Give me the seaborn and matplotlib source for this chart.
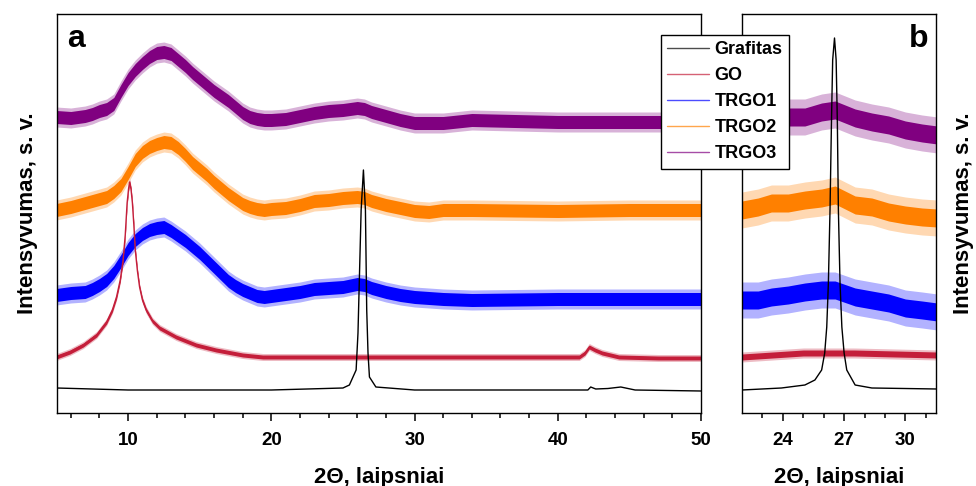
import numpy as np
import pandas as pd
import matplotlib
matplotlib.use("Agg")
import matplotlib.pyplot as plt
import seaborn as sns

sns.set_style("ticks")
plt.rcParams["font.family"] = ["Liberation Sans", "DejaVu Sans"]
plt.rcParams["font.weight"] = "bold"
plt.rcParams["text.color"] = "black"
plt.rcParams["axes.labelcolor"] = "black"
plt.rcParams["xtick.color"] = "black"
plt.rcParams["ytick.color"] = "black"

# ---- data (arbitrary intensity units) ----
names = ["Grafitas", "GO", "TRGO1", "TRGO2", "TRGO3"]
colors = {"Grafitas": "#000000", "GO": "#c41e3a", "TRGO1": "#0000ff",
          "TRGO2": "#ff8000", "TRGO3": "#800080"}

# panel a (2θ 5-50)
x_trgo_a = [5, 6, 7, 7.5, 8, 8.5, 9, 9.5, 10, 10.5, 11, 11.5, 12, 12.5, 13,
            13.5, 14, 14.5, 15, 15.5, 16, 16.5, 17, 17.5, 18, 18.5, 19, 19.5,
            20, 21, 22, 23, 24, 25, 26, 26.5, 27, 28, 29, 30, 31, 32, 34, 40,
            45, 50]
trgo3_a = [296, 295, 297, 299, 302, 304, 309, 322, 334, 343, 350, 356, 360, 361,
           359, 353, 347, 340, 334, 328, 322, 317, 312, 306, 300, 296, 294, 293,
           293, 294, 297, 300, 302, 303, 305, 304, 301, 297, 293, 290, 290, 290,
           293, 291, 291, 291]
trgo2_a = [203, 206, 210, 212, 214, 216, 221, 228, 240, 253, 261, 266, 269, 271,
           270, 265, 258, 250, 244, 238, 231, 225, 219, 214, 209, 206, 204, 203,
           204, 205, 208, 212, 213, 215, 216, 215, 212, 208, 205, 202, 201, 203,
           203, 202, 203, 203]
trgo1_a = [118, 120, 121, 124, 128, 133, 141, 152, 164, 173, 179, 183, 185, 186,
           182, 177, 172, 166, 160, 153, 146, 139, 132, 127, 123, 120, 117, 116,
           117, 119, 121, 124, 125, 126, 129, 128, 125, 121, 118, 116, 115, 114,
           113, 114, 114, 114]

x_go_a = [5.0, 5.94, 6.87, 7.8, 8.5, 8.9, 9.19, 9.45, 9.65, 9.8, 9.93, 10.03,
          10.1, 10.2, 10.3, 10.4, 10.5, 10.65, 10.8, 11.0, 11.26, 11.7, 12.2,
          13.35, 14.75, 16.14, 18.0, 19.4, 25, 30, 35, 41.5, 41.9, 42.2, 42.6,
          43.1, 44.27, 47, 50]
go_a = [56, 61, 68, 78, 91, 103, 116, 133, 153, 178, 210, 224, 231, 224, 210,
        188, 163, 142, 126, 113, 103, 92, 85, 76, 68, 63, 58, 56, 56, 56, 56, 56,
        60, 66, 63, 60, 56, 55, 55]

x_gr_a = [5, 10, 20, 25, 25.45, 25.92, 26.05, 26.15, 26.27, 26.43, 26.57, 26.66,
          26.75, 26.85, 27.3, 30, 40, 42.1, 42.3, 42.65, 43.5, 44.4, 45.4, 50]
gr_a = [25, 23, 23, 25, 28, 43, 80, 136, 203, 243, 203, 103, 60, 36, 26, 23, 23,
        23, 26, 24, 24.5, 26, 23, 22]

# panel b (2θ 22-31.5)
x_trgo_b = [22.0, 22.79, 23.44, 24.26, 25.08, 25.9, 26.56, 27.54, 28.36, 29.18,
            30.0, 30.82, 31.56]
trgo3_b = [296, 296, 296, 296, 296, 301, 303, 295, 291, 288, 283, 280, 278]
trgo2_b = [203, 206, 210, 210, 213, 215, 218, 208, 206, 201, 198, 196, 195]
trgo1_b = [113, 113, 116, 118, 121, 123, 123, 116, 113, 110, 105, 103, 101]

x_go_b = [22.0, 25.0, 27.5, 31.56]
go_b = [56, 60, 60, 58]

x_gr_b = [22.0, 23.93, 25.08, 25.57, 25.9, 26.05, 26.15, 26.23, 26.31, 26.38,
          26.44, 26.53, 26.61, 26.67, 26.72, 26.8, 26.89, 27.0, 27.13, 27.54,
          28.36, 31.56]
gr_b = [23, 25, 28, 33, 43, 60, 86, 130, 203, 290, 353, 375, 353, 290, 203, 130,
        86, 60, 43, 28, 25, 24]

# visible scatter: half width of the dense core and of the spikes
core_a = {"GO": 2.0, "TRGO1": 6.5, "TRGO2": 6.5, "TRGO3": 6.5}
spike_a = {"GO": 3.5, "TRGO1": 10, "TRGO2": 10, "TRGO3": 10}
core_b = {"GO": 3.0, "TRGO1": 9, "TRGO2": 9, "TRGO3": 9}
spike_b = {"GO": 5.0, "TRGO1": 18, "TRGO2": 18, "TRGO3": 18}

panel_a = {"TRGO3": (x_trgo_a, trgo3_a), "TRGO2": (x_trgo_a, trgo2_a),
           "TRGO1": (x_trgo_a, trgo1_a), "GO": (x_go_a, go_a),
           "Grafitas": (x_gr_a, gr_a)}
panel_b = {"TRGO3": (x_trgo_b, trgo3_b), "TRGO2": (x_trgo_b, trgo2_b),
           "TRGO1": (x_trgo_b, trgo1_b), "GO": (x_go_b, go_b),
           "Grafitas": (x_gr_b, gr_b)}

fig = plt.figure(figsize=(9.76, 4.86), dpi=100)
ax_a = fig.add_axes([56.5 / 976, 1 - 413 / 486, (701 - 56.5) / 976, 399 / 486])
ax_b = fig.add_axes([742 / 976, 1 - 413 / 486, (936 - 742) / 976, 399 / 486])


def draw(ax, panel, core, spike):
    for name in ["TRGO3", "TRGO2", "TRGO1", "GO", "Grafitas"]:
        x, y = panel[name]
        df = pd.DataFrame({"x": x, "y": y})
        if name in core:
            ax.fill_between(df["x"], df["y"] - spike[name], df["y"] + spike[name],
                            color=colors[name], lw=0, alpha=0.3)
            ax.fill_between(df["x"], df["y"] - core[name], df["y"] + core[name],
                            color=colors[name], lw=0)
        sns.lineplot(data=df, x="x", y="y", color=colors[name], lw=1.0,
                     ax=ax, sort=False)


draw(ax_a, panel_a, core_a, spike_a)
draw(ax_b, panel_b, core_b, spike_b)

ax_a.set_xlim(5, 50)
ax_b.set_xlim(22, 31.5)
ax_a.set_xticks([10, 20, 30, 40, 50])
ax_a.set_xticks(np.arange(6, 50, 2), minor=True)
ax_b.set_xticks([24, 27, 30])
ax_b.set_xticks(np.arange(23, 32, 1), minor=True)
for ax in (ax_a, ax_b):
    ax.set_ylim(0, 399)
    ax.set_yticks([])
    for s in ax.spines.values():
        s.set_visible(True)
        s.set_linewidth(1.0)
        s.set_color("black")
    ax.tick_params(axis="x", which="major", direction="out", length=6,
                   width=1.1, labelsize=13.5, pad=7.5)
    ax.tick_params(axis="x", which="minor", direction="out", length=3.6,
                   width=1.1)
    ax.set_xlabel("2Θ, laipsniai", fontsize=16, fontweight="bold", labelpad=13)
    for lab in ax.get_xticklabels():
        lab.set_fontweight("bold")

ax_a.set_ylabel("Intensyvumas, s. v.", fontsize=16, fontweight="bold", labelpad=13.5)
ax_b.set_ylabel("Intensyvumas, s. v.", fontsize=16, fontweight="bold", labelpad=12.5)
ax_b.yaxis.set_label_position("right")
ax_b.yaxis.label.set_rotation(90)

ax_a.text(0.016, 0.917, "a", transform=ax_a.transAxes, fontsize=23,
          fontweight="bold", va="baseline", ha="left")
ax_b.text(0.959, 0.917, "b", transform=ax_b.transAxes, fontsize=23,
          fontweight="bold", va="baseline", ha="right")

handles = [plt.Line2D([], [], color=colors[n], lw=1.0, alpha=0.7) for n in names]
leg = fig.legend(handles, names, loc="upper left",
                 bbox_to_anchor=(661 / 976, 1 - 35 / 486), frameon=True,
                 fancybox=False, framealpha=1, edgecolor="black",
                 prop={"weight": "bold", "size": 13}, handlelength=2.3,
                 handletextpad=0.3, labelspacing=0.5, borderpad=0.35,
                 borderaxespad=0)
leg.get_frame().set_linewidth(1.0)

fig.savefig("out.png", dpi=100)
